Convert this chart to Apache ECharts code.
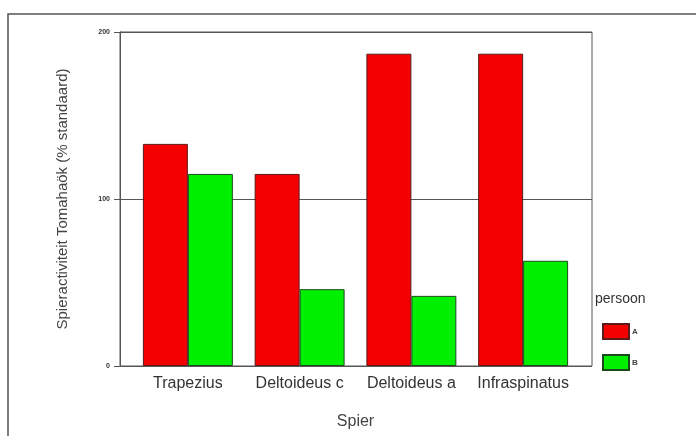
<!DOCTYPE html>
<html><head><meta charset="utf-8">
<script src="https://cdn.jsdelivr.net/npm/echarts@6/dist/echarts.min.js"></script>
<style>html,body{margin:0;padding:0;background:#fff}#c{width:696px;height:436px}</style>
</head><body><div id="c"></div>
<script>
const categories = ['Trapezius', 'Deltoideus c', 'Deltoideus a', 'Infraspinatus'];
const seriesA = [133, 115, 187, 187];
const seriesB = [115, 46, 42, 63];
const yTicks = [0, 100, 200];
const legendNames = ['A', 'B'];

const font = 'Arial, "Liberation Sans", sans-serif';
const chart = echarts.init(document.getElementById('c'));
chart.setOption({
  animation: false,
  backgroundColor: '#fff',
  graphic: [
    { type: 'rect', shape: { x: 8, y: 14, width: 720, height: 460 }, style: { fill: 'none', stroke: '#555', lineWidth: 1.5 }, silent: true },
    { type: 'text', left: 595, top: 292, style: { text: 'persoon', font: '14px ' + font, fill: '#333' } }
  ],
  grid: [
    { left: 120, top: 32, width: 472, height: 334, show: true, borderColor: '#555', borderWidth: 1, backgroundColor: 'transparent' },
    { left: 132, top: 32, width: 447, height: 334, show: false }
  ],
  legend: {
    data: legendNames, orient: 'vertical', left: 602, top: 323, padding: 0, itemWidth: 26, itemHeight: 15, itemGap: 14,
    icon: 'rect', textStyle: { fontSize: 8, fontWeight: 'bold', color: '#444', padding: [0, 0, 0, -2] }
  },
  xAxis: [
    { type: 'value', gridIndex: 0, min: 0, max: 1, show: false },
    {
      type: 'category', gridIndex: 1, data: categories,
      axisLine: { show: false }, axisTick: { show: false },
      axisLabel: { fontSize: 16, color: '#333', fontFamily: font, margin: 10, interval: 0, hideOverlap: false },
      name: 'Spier', nameLocation: 'middle', nameGap: 48,
      nameTextStyle: { fontSize: 16, color: '#444', fontFamily: font }
    }
  ],
  yAxis: [
    {
      type: 'value', gridIndex: 0, min: 0, max: 200, interval: 100,
      axisLine: { show: true, lineStyle: { color: '#555' } },
      axisTick: { show: true, length: 6, lineStyle: { color: '#555' } },
      splitLine: { show: true, lineStyle: { color: '#555', width: 1 } },
      axisLabel: { fontSize: 7, color: '#333', fontWeight: 'bold', margin: 10,
        formatter: v => yTicks.includes(v) ? String(v) : '' },
      name: 'Spieractiviteit Tomahaök (% standaard)', nameLocation: 'middle', nameGap: 50,
      nameTextStyle: { fontSize: 15, color: '#444', fontFamily: font }
    },
    { type: 'value', gridIndex: 1, min: 0, max: 200, show: false }
  ],
  series: [
    { name: legendNames[0], type: 'bar', xAxisIndex: 1, yAxisIndex: 1, data: seriesA, barGap: '0%', barCategoryGap: '19.5%',
      itemStyle: { color: '#f40000', borderColor: '#5a1a1a', borderWidth: 1 } },
    { name: legendNames[1], type: 'bar', xAxisIndex: 1, yAxisIndex: 1, data: seriesB,
      itemStyle: { color: '#00f000', borderColor: '#1a4a1a', borderWidth: 1 } }
  ]
});
</script></body></html>
